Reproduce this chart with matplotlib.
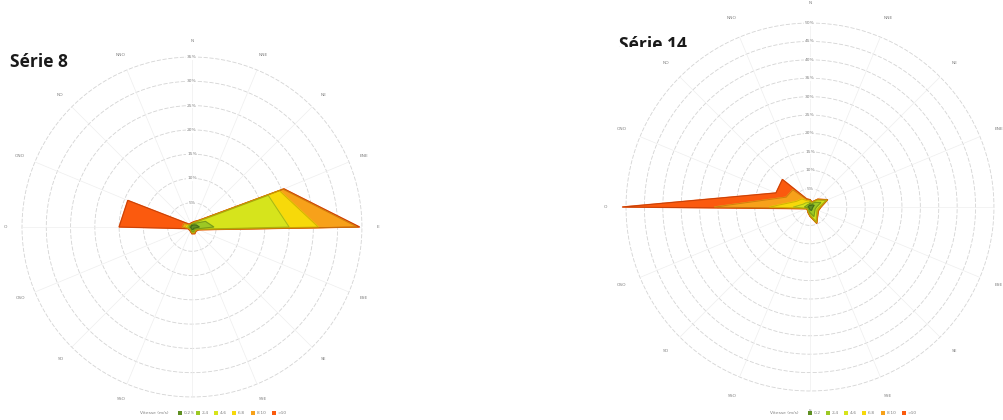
import numpy as np
import matplotlib.pyplot as plt
from matplotlib.patches import Patch, Rectangle

directions = ['N', 'NNE', 'NE', 'ENE', 'E', 'ESE', 'SE', 'SSE',
              'S', 'SSO', 'SO', 'OSO', 'O', 'ONO', 'NO', 'NNO']
classes = ['0-2', '2-4', '4-6', '6-8', '8-10', '>10']
class_colors = ['#5e8f22', '#9cc824', '#d6e41c', '#f7d90a', '#f7a11a', '#fb5a0e']
edge_colors = ['#3f6214', '#6f8f15', '#a0ab10', '#c9a800', '#c7760a', '#b83a06']

# Série 8 - frequency (%) per speed class and direction
s8_c1 = [0.3, 0.4, 0.6, 1.0, 1.5, 0.6, 0.4, 0.6, 0.5, 0.3, 0.2, 0.3, 0.3, 0.2, 0.2, 0.2]
s8_c2 = [0.2, 0.3, 0.5, 2.0, 3.0, 0.4, 0.3, 0.4, 0.4, 0.2, 0.2, 0.2, 0.3, 0.3, 0.2, 0.2]
s8_c3 = [0.1, 0.2, 0.4, 14.0, 15.5, 0.2, 0.2, 0.2, 0.2, 0.1, 0.1, 0.1, 0.3, 0.3, 0.1, 0.1]
s8_c4 = [0.1, 0.1, 0.2, 2.5, 6.0, 0.1, 0.1, 0.1, 0.1, 0.1, 0.1, 0.1, 0.5, 0.4, 0.1, 0.1]
s8_c5 = [0.1, 0.1, 0.1, 0.8, 8.0, 0.1, 0.1, 0.1, 0.1, 0.1, 0.1, 0.1, 0.6, 0.6, 0.1, 0.1]
s8_c6 = [0.1, 0.1, 0.1, 0.2, 0.5, 0.1, 0.1, 0.1, 0.1, 0.1, 0.1, 0.1, 13.0, 12.5, 0.1, 0.1]
s8_rings = [5, 10, 15, 20, 25, 30, 35]

# Série 14
s14_c1 = [0.5, 0.4, 0.8, 1.2, 0.8, 0.7, 0.8, 1.0, 0.7, 0.4, 0.3, 0.3, 0.5, 0.5, 0.4, 0.4]
s14_c2 = [0.5, 0.4, 0.9, 2.0, 1.0, 0.8, 1.0, 1.8, 0.8, 0.4, 0.3, 0.3, 1.0, 0.5, 0.5, 0.4]
s14_c3 = [0.4, 0.3, 0.6, 1.5, 0.7, 0.5, 0.7, 1.5, 0.5, 0.3, 0.2, 0.3, 3.0, 1.0, 0.7, 0.5]
s14_c4 = [0.3, 0.2, 0.4, 0.3, 0.3, 0.3, 0.3, 0.3, 0.3, 0.2, 0.1, 0.1, 6.5, 2.0, 1.5, 0.5]
s14_c5 = [0.2, 0.1, 0.2, 0.1, 0.1, 0.1, 0.1, 0.1, 0.1, 0.1, 0.05, 0.1, 15.0, 3.0, 3.5, 0.4]
s14_c6 = [0.1, 0.1, 0.1, 0.1, 0.1, 0.1, 0.1, 0.1, 0.1, 0.1, 0.05, 0.1, 25.0, 3.0, 4.0, 0.2]
s14_rings = [5, 10, 15, 20, 25, 30, 35, 40, 45, 50]


def draw_rose(ax, series, rings, label_r):
    rmax = rings[-1]
    n = len(directions)
    theta = np.arange(n) * 2 * np.pi / n
    theta_c = np.append(theta, theta[0])
    ax.set_theta_zero_location('N')
    ax.set_theta_direction(-1)
    ax.set_ylim(0, rmax)
    ax.set_axis_off()

    # grid
    circ = np.linspace(0, 2 * np.pi, 300)
    for r in rings:
        ax.plot(circ, [r] * len(circ), color='#d4d4d4', lw=0.6,
                ls=(0, (5, 2)), zorder=1, clip_on=False)
    for t in theta:
        ax.plot([t, t], [0, rmax], color='#eeeeee', lw=0.5, zorder=1)

    # stacked polygons, drawn outer first
    cum = np.cumsum(np.array(series), axis=0)
    for k in range(len(series) - 1, -1, -1):
        vals = np.append(cum[k], cum[k][0])
        ax.fill(theta_c, vals, color=class_colors[k], zorder=2 + (5 - k) * 0.01,
                clip_on=False)
        ax.plot(theta_c, vals, color=edge_colors[k], lw=0.7, alpha=0.8,
                zorder=2.1, clip_on=False)

    for r in rings:
        ax.text(0, r, f'{r}%', ha='center', va='center', fontsize=3.2,
                color='#808080', zorder=4,
                bbox=dict(boxstyle='square,pad=0.15', fc='white', ec='none'))
    for t, d in zip(theta, directions):
        ax.text(t, rmax * label_r, d, ha='center', va='center', fontsize=3.2,
                color='#808080', clip_on=False)


fig = plt.figure(figsize=(10.04, 4.2), dpi=100)

ax1 = fig.add_axes([0.0219, 0.0548, 0.3386, 0.8095], projection='polar')
ax1.set_zorder(2)
draw_rose(ax1, [s8_c1, s8_c2, s8_c3, s8_c4, s8_c5, s8_c6], s8_rings, 1.095)

ax2 = fig.add_axes([0.6235, 0.0690, 0.3665, 0.8762], projection='polar')
ax2.set_zorder(2)
draw_rose(ax2, [s14_c1, s14_c2, s14_c3, s14_c4, s14_c5, s14_c6], s14_rings, 1.11)

fig.text(10 / 1004, 1 - 67 / 420, 'Série 8', fontsize=12.5, fontweight='bold',
         family=['Open Sans', 'DejaVu Sans'], color='#1a1a1a', va='baseline', zorder=1)
fig.text(619 / 1004, 1 - 50 / 420, 'Série 14', fontsize=12.5, fontweight='bold',
         family=['Open Sans', 'DejaVu Sans'], color='#1a1a1a', va='baseline', zorder=1)
# plot area of the right chart hides the bottom of its title
fig.patches.append(Rectangle((0.605, 0), 0.12, 1 - 47 / 420, transform=fig.transFigure,
                             fc='white', ec='none', zorder=1.5))

handles = [Patch(fc=c, ec='none') for c in class_colors]
for x_lab, x_leg in [(140, 232), (770, 862)]:
    fig.text(x_lab / 1004, 1 - 413 / 420, 'Vitesse (m/s)', fontsize=3.2,
             color='#808080', va='center')
    fig.legend(handles, classes, loc='center', ncol=6, frameon=False,
               bbox_to_anchor=(x_leg / 1004, 1 - 413 / 420), fontsize=3.2,
               handlelength=0.9, handleheight=0.9, columnspacing=1.2,
               handletextpad=0.4, labelcolor='#808080')

fig.savefig('out.png', dpi=100, facecolor='white')
